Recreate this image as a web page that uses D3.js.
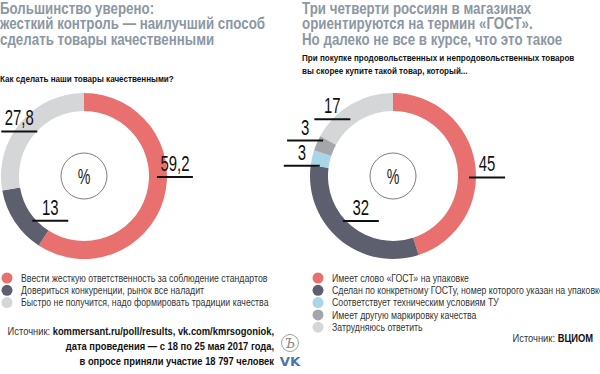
<!DOCTYPE html>
<html><head><meta charset="utf-8">
<script src="https://cdn.jsdelivr.net/npm/d3@7"></script>
<style>body{margin:0;background:#fff} svg{display:block}</style>
</head><body><svg id="c" width="600" height="374"></svg>
<script>
// ---------- data ----------
const leftTitle = ["Большинство уверено:", "жесткий контроль — наилучший способ", "сделать товары качественными"];
const leftQuestion = ["Как сделать наши товары качественными?"];
const leftCategories = [
  "Ввести жесткую ответственность за соблюдение стандартов",
  "Довериться конкуренции, рынок все наладит",
  "Быстро не получится, надо формировать традиции качества"
];
const leftValues = [59.2, 13, 27.8];
const leftLabels = ["59,2", "13", "27,8"];

const rightTitle = ["Три четверти россиян в магазинах", "ориентируются на термин «ГОСТ».", "Но далеко не все в курсе, что это такое"];
const rightQuestion = ["При покупке продовольственных и непродовольственных товаров", "вы скорее купите такой товар, который..."];
const rightCategories = [
  "Имеет слово «ГОСТ» на упаковке",
  "Сделан по конкретному ГОСТу, номер которого указан на упаковке",
  "Соответствует техническим условиям ТУ",
  "Имеет другую маркировку качества",
  "Затрудняюсь ответить"
];
const rightValues = [45, 32, 3, 3, 17];
const rightLabels = ["45", "32", "3", "3", "17"];

const leftSource = [
  [["Источник: ", false], ["kommersant.ru/poll/results, vk.com/kmrsogoniok,", true]],
  [["дата проведения — с 18 по 25 мая 2017 года,", true]],
  [["в опросе приняли участие 18 797 человек", true]]
];
const rightSource = [[["Источник: ", false], ["ВЦИОМ", true]]];

// ---------- styles / layout ----------
const leftColors = ["#e8716f", "#5d5f6e", "#d5d6d8"];
const rightColors = ["#e8716f", "#5d5f6e", "#a8d5e8", "#a5a6aa", "#d5d6d8"];
const FONT = "'Liberation Sans', Arial, sans-serif";
const titleColor = "#8c97a4";
const leftLabelLayout = [{dir: 1, dx: 2, dy: -20}, {dir: 1, dx: 10, dy: 4}, {dir: -1, dx: 10, dy: 3}];
const rightLabelLayout = [{dir: 1, dx: 3, dy: 13}, {dir: 1, dx: -3, dy: -12}, {dir: -1, dx: -1, dy: 6}, {dir: -1, dx: -2, dy: -6}, {dir: -1, dx: -5, dy: 7}];

const svg = d3.select("#c");

// horizontal condensation factor so that a reference string spans a target width
function fitScale(str, size, weight, target) {
  const t = svg.append("text").style("font-family", FONT).style("font-size", size + "px")
    .style("font-weight", weight).text(str);
  const w = t.node().getBBox().width;
  t.remove();
  return target / w;
}
const sTitle = fitScale(leftTitle[1], 16, "bold", 266);
const sQuest = fitScale(rightQuestion[0], 8.8, "bold", 273);
const sLegend = fitScale(leftCategories[0], 10.5, "normal", 247);
const sNum = fitScale("59,2", 23, "normal", 29);
const sSource = (() => {
  const t = svg.append("text").style("font-family", FONT).style("font-size", "10px");
  leftSource[0].forEach(p => t.append("tspan").style("font-weight", p[1] ? "bold" : "normal").text(p[0]));
  const w = t.node().getBBox().width; t.remove(); return 267 / w;
})();

function textBlock(x, y, lines, size, weight, color, s, lh) {
  svg.append("g").attr("transform", `translate(${x},${y}) scale(${s},1)`)
    .selectAll("text").data(lines).join("text")
    .attr("x", 0).attr("y", (d, i) => i * lh)
    .style("font-family", FONT).style("font-weight", weight).style("font-size", size + "px")
    .attr("fill", color).text(d => d);
}

function donut(cx, cy, values, labels, colors, layout) {
  const g = svg.append("g").attr("transform", `translate(${cx},${cy})`);
  const rOut = 83, rIn = 65, rMid = (rOut + rIn) / 2;
  const pie = d3.pie().sort(null).value(d => d);
  const arc = d3.arc().innerRadius(rIn).outerRadius(rOut);
  const arcs = pie(values);
  g.selectAll("path").data(arcs).join("path").attr("d", arc).attr("fill", (d, i) => colors[i]);
  g.append("circle").attr("r", 23).attr("fill", "none").attr("stroke", "#444").attr("stroke-width", 0.7);
  g.append("text").attr("transform", `translate(0,8) scale(${sNum},1)`).attr("text-anchor", "middle")
    .style("font-family", FONT).style("font-size", "22px").attr("fill", "#222").text("%");
  arcs.forEach((a, i) => {
    const mid = (a.startAngle + a.endAngle) / 2;
    const L = layout[i];
    const ax = rMid * Math.sin(mid) + L.dx;
    const ay = -rMid * Math.cos(mid) + L.dy;
    const x1 = L.dir > 0 ? ax : ax - 36, x2 = L.dir > 0 ? ax + 36 : ax;
    g.append("line").attr("x1", x1).attr("x2", x2).attr("y1", ay).attr("y2", ay)
      .attr("stroke", "#111").attr("stroke-width", 2);
    g.append("text").attr("transform", `translate(${(x1 + x2) / 2},${ay - 6}) scale(${sNum},1)`)
      .attr("text-anchor", "middle")
      .style("font-family", FONT).style("font-size", "23px").attr("fill", "#111").text(labels[i]);
  });
}

function legend(x, y0, cats, colors) {
  const g = svg.append("g");
  cats.forEach((c, i) => {
    const y = y0 + i * 12.3;
    g.append("circle").attr("cx", x).attr("cy", y).attr("r", 5.5).attr("fill", colors[i]);
    g.append("text").attr("transform", `translate(${x + 14},${y + 3.8}) scale(${sLegend},1)`)
      .style("font-family", FONT).style("font-size", "10.5px").attr("fill", "#333").text(c);
  });
}

function source(xEnd, y0, lines) {
  lines.forEach((parts, i) => {
    const t = svg.append("text").attr("transform", `translate(${xEnd},${y0 + i * 15}) scale(${sSource},1)`)
      .attr("text-anchor", "end")
      .style("font-family", FONT).style("font-size", "10px").attr("fill", "#111");
    parts.forEach(p => t.append("tspan").style("font-weight", p[1] ? "bold" : "normal")
      .attr("fill", p[1] ? "#111" : "#333").text(p[0]));
  });
}

textBlock(0, 13.5, leftTitle, 16, "bold", titleColor, sTitle, 16);
textBlock(302, 13.5, rightTitle, 16, "bold", titleColor, sTitle, 16);
textBlock(0, 82, leftQuestion, 8.8, "bold", "#111", sQuest, 13);
textBlock(302, 61, rightQuestion, 8.8, "bold", "#111", sQuest, 13);
donut(84, 176, leftValues, leftLabels, leftColors, leftLabelLayout);
donut(393, 176, rightValues, rightLabels, rightColors, rightLabelLayout);
legend(7, 278, leftCategories, leftColors);
legend(318, 278, rightCategories, rightColors);
source(274, 335, leftSource);
source(593, 342, rightSource);

// logos
svg.append("circle").attr("cx", 290).attr("cy", 343).attr("r", 8.5).attr("fill", "none").attr("stroke", "#888").attr("stroke-width", 0.8);
svg.append("text").attr("x", 290).attr("y", 348).attr("text-anchor", "middle")
  .style("font-family", "'DejaVu Serif',serif").style("font-style", "italic").style("font-size", "13px").attr("fill", "#888").text("Ъ");
svg.append("text").attr("transform", "translate(290,366) scale(1.1,1)").attr("text-anchor", "middle")
  .style("font-family", "'DejaVu Sans',sans-serif").style("font-weight", "bold").style("font-size", "12px").attr("fill", "#4a76a8").text("VK");
</script></body></html>
